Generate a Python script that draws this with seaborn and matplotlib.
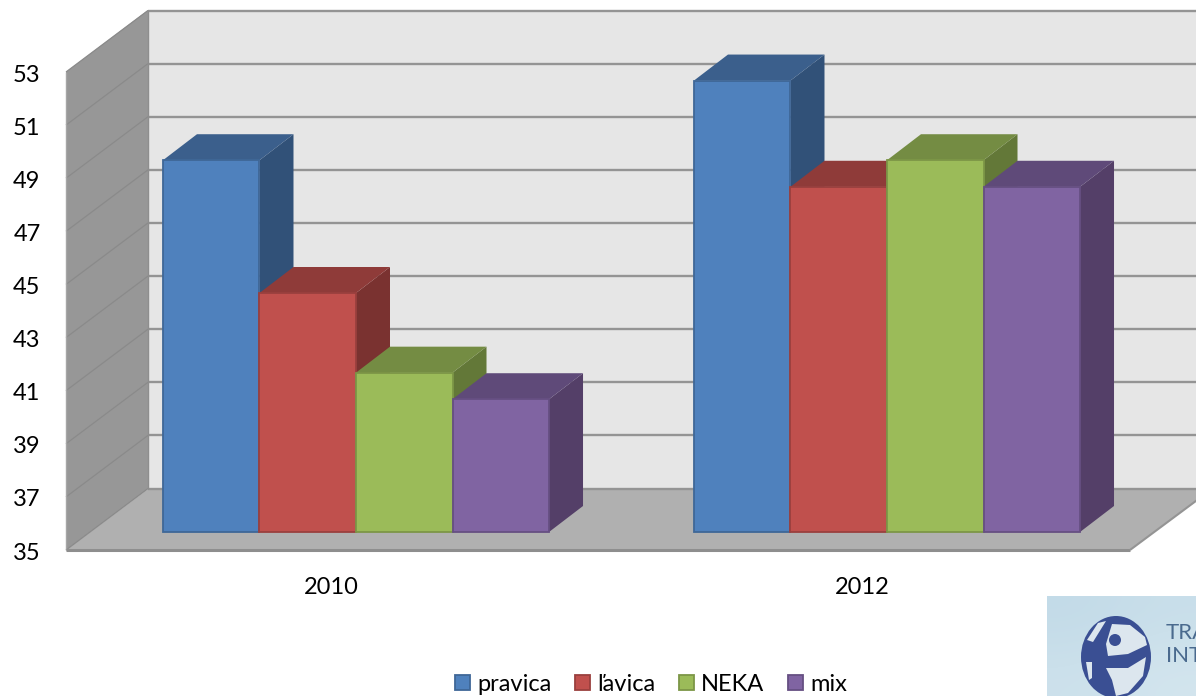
import numpy as np
import pandas as pd
import seaborn as sns
import matplotlib
matplotlib.use("Agg")
import matplotlib.pyplot as plt
from matplotlib.patches import Polygon, Patch, Ellipse, Circle
from matplotlib.transforms import Affine2D, IdentityTransform

# data
years = ["2010", "2012"]
series = ["pravica", "ľavica", "NEKA", "mix"]
pravica = [49, 52]
lavica = [44, 48]
neka = [41, 49]
mix = [40, 48]
y_ticks = [35, 37, 39, 41, 43, 45, 47, 49, 51, 53]

# face, edge, top, side
front_cols = ["#4F81BD", "#C0504D", "#9BBB59", "#8064A2"]
edge_cols = ["#3F6797", "#9A403E", "#7C9647", "#664F82"]
top_cols = ["#3B5F8C", "#8F3B39", "#748C43", "#5F4A79"]
side_cols = ["#315178", "#7A3230", "#637838", "#543F68"]

W, H = 1196, 696
BASE = 35

sns.set_theme(style="white")
plt.rcParams["font.family"] = ["Lato", "Noto Sans", "DejaVu Sans"]

df = pd.DataFrame({
    "year": years * 4,
    "party": [s for s in series for _ in years],
    "value": pravica + lavica + neka + mix,
})

fig = plt.figure(figsize=(W / 100, H / 100), dpi=100, facecolor="white")
# front edge of the box starts at x 66, y 550..72 in image pixels
ax = fig.add_axes([66 / W, (H - 550) / H, 1062 / W, 478 / H])
ax.patch.set_visible(False)

sns.barplot(data=df, x="year", y="value", hue="party", hue_order=series,
            palette=front_cols, saturation=1, width=0.727, gap=0,
            legend=False, ax=ax)
bars = list(ax.patches)

ax.set_xlim(-0.5, 1.5)
ax.set_ylim(BASE, 53)
ax.set_yticks(y_ticks)
ax.set_xlabel("")
ax.set_ylabel("")
ax.tick_params(axis="y", length=0, pad=18.3, labelsize=17, labelcolor="black")
ax.tick_params(axis="x", length=0, pad=19.5, labelsize=17, labelcolor="black")
for sp in ax.spines.values():
    sp.set_visible(False)
for lab in ax.get_yticklabels():
    lab.set_transform(lab.get_transform() + Affine2D().translate(0, -1))


def px(x, y):
    # image pixels (y down) to display coords
    return (x, H - y)


def add_poly(pts, color, z, edge="none", lw=0):
    ax.add_patch(Polygon(pts, closed=True, facecolor=color, edgecolor=edge, linewidth=lw,
                         transform=IdentityTransform(), clip_on=False, zorder=z))


def add_line(p0, p1, lw=1.5, color="#949494", z=1.5):
    ax.plot([p0[0], p1[0]], [p0[1], p1[1]], color=color, lw=lw,
            transform=IdentityTransform(), clip_on=False, zorder=z, solid_capstyle="butt")


# box: left wall, back wall, floor
DX, DY = 82, 61.5
add_poly([px(66, 72), px(148, 10), px(148, 489), px(66, 550)], "#979797", 0.2)
add_poly([px(148, 10), px(1212, 10), px(1212, 489), px(148, 489)], "#E6E6E6", 0.2)
add_poly([px(66, 550), px(148, 489), px(1212, 489), px(1130, 550)], "#B0B0B0", 0.3)

# gridlines run from the tick along the left wall and then along the back wall
for t in y_ticks:
    x0, y0 = ax.transData.transform((-0.5, t))
    x1, y1 = x0 + DX, y0 + DY
    add_line((x0, y0), (x1, y1), lw=0.9, color="#8A8A8A", z=0.4)
    add_line((x1, y1), (x1 + 1064, y1), lw=1.7, z=0.4)
add_line(px(66, 72), px(66, 550), lw=1.0, color="#A6A6A6", z=0.5)
add_line(px(148, 10), px(148, 489), lw=1.0, color="#8E8E8E", z=0.5)
add_line(px(66, 550), px(1130, 550), lw=2.2, color="#8E8E8E", z=0.5)
add_line(px(1130, 550), px(1212, 489), lw=1.5, z=0.5)
ax.set_xlim(-0.5, 1.5)
ax.set_ylim(BASE, 53)

# bars sit a bit into the box, extrude each front face backwards
SHIFT_X, SHIFT_Y = 24.5, 18
BAR_DX, BAR_DY = 34, 26
shift = ax.transData + Affine2D().translate(SHIFT_X, SHIFT_Y)
n_year = len(years)
for i, bar in enumerate(bars):
    k = i // n_year
    top = bar.get_height()
    bar.set_y(BASE)
    bar.set_height(top - BASE)
    bar.set_transform(shift)
    bar.set_clip_on(False)
    bar.set_edgecolor(edge_cols[k])
    bar.set_linewidth(1.3)
    xl, xr = bar.get_x(), bar.get_x() + bar.get_width()
    (ax0, ay0), (ax1, ay1) = shift.transform([(xl, BASE), (xr, top)])
    z = 2 + (i % n_year) * 10 + k * 2
    add_poly([(ax1, ay0), (ax1 + BAR_DX, ay0 + BAR_DY), (ax1 + BAR_DX, ay1 + BAR_DY), (ax1, ay1)],
             side_cols[k], z)
    add_poly([(ax0, ay1), (ax0 + BAR_DX, ay1 + BAR_DY), (ax1 + BAR_DX, ay1 + BAR_DY), (ax1, ay1)],
             top_cols[k], z)
    bar.set_zorder(z + 1)

# legend
handles = [Patch(facecolor=c, edgecolor=e, linewidth=1.3, label=s)
           for c, e, s in zip(front_cols, edge_cols, series)]
fig.legend(handles=handles, loc="center", bbox_to_anchor=(651 / W, (H - 684.5) / H), ncol=4,
           frameon=False, fontsize=17, handlelength=0.62, handleheight=0.62,
           handletextpad=0.32, columnspacing=1.0, borderpad=0, labelcolor="black")

# logo in the corner, cut off by the page edge
logo = fig.add_axes([1047 / W, 0, 149 / W, 100 / H])
logo.axis("off")
grad = np.array([[0.0, 0.35], [0.6, 1.0]])
cmap = matplotlib.colors.LinearSegmentedColormap.from_list("bg", ["#C3DBE8", "#D3E5EE"])
logo.imshow(grad, cmap=cmap, extent=(1047, 1196, 696, 596), aspect="auto", interpolation="bicubic")
logo.set_xlim(1047, 1196)
logo.set_ylim(696, 596)
navy = "#3A4F93"
light = "#DCE6EE"
logo.add_patch(Ellipse((1116, 657), 70, 82, facecolor=navy, edgecolor="none"))
logo.add_patch(Polygon([(1112, 624), (1130, 625), (1145, 637), (1147, 645), (1128, 654), (1108, 656),
                        (1106, 644)], facecolor=light, edgecolor="none"))
logo.add_patch(Circle((1115, 640), 6, facecolor=navy, edgecolor="none"))
logo.add_patch(Polygon([(1106, 668), (1128, 668), (1146, 657), (1143, 676), (1128, 693), (1116, 696),
                        (1112, 680)], facecolor=light, edgecolor="none"))
logo.add_patch(Polygon([(1098, 623), (1106, 621), (1093, 642), (1087, 640)], facecolor=light, edgecolor="none"))
logo.add_patch(Polygon([(1086, 662), (1092, 662), (1092, 678), (1089, 680)], facecolor=light, edgecolor="none"))
logo.text(1166, 633, "TRA", fontsize=16, color="#4A6A8E", va="center", ha="left", clip_on=True)
logo.text(1166, 656, "INT", fontsize=16, color="#4A6A8E", va="center", ha="left", clip_on=True)

fig.savefig("out.png", dpi=100)
